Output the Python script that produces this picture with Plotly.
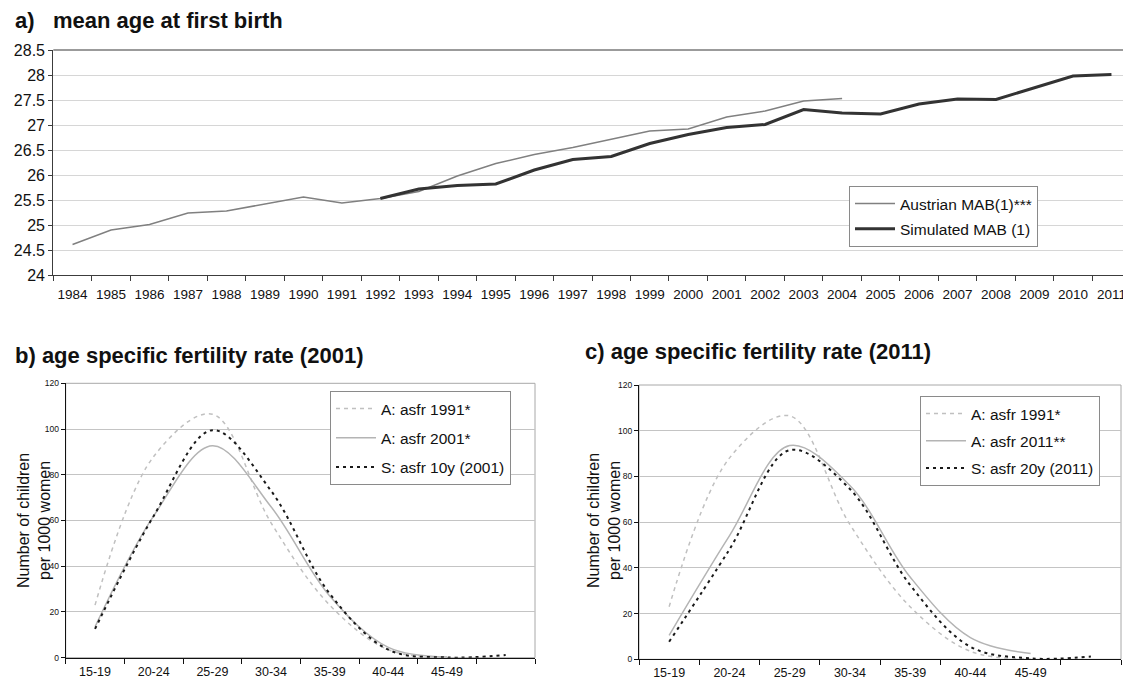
import plotly.graph_objects as go

W, H = 1123, 684
FONT = "Arial, 'Liberation Sans', sans-serif"

# ---- panel a: mean age at first birth ----
years = [str(y) for y in range(1984, 2012)]
austria_years = [str(y) for y in range(1984, 2005)]
austria_mab = [24.61, 24.90, 25.01, 25.24, 25.28, 25.42, 25.56, 25.44, 25.53, 25.67,
               25.98, 26.23, 26.41, 26.55, 26.71, 26.88, 26.92, 27.16, 27.28, 27.48, 27.53]
sim_years = [str(y) for y in range(1992, 2012)]
sim_mab = [25.53, 25.72, 25.79, 25.82, 26.10, 26.31, 26.37, 26.63, 26.81, 26.95,
           27.01, 27.31, 27.24, 27.22, 27.42, 27.52, 27.51, 27.75, 27.98, 28.01]

# ---- panels b and c: age specific fertility rates ----
age_groups = ["15-19", "20-24", "25-29", "30-34", "35-39", "40-44", "45-49", " "]
asfr_1991 = [23, 88, 106.5, 59, 23, 3.5, 0.2]
asfr_2001 = [13.5, 62, 92.7, 66, 27, 4.5, 0.3]
sim_10y = [12.6, 62, 99.5, 73, 28, 3.5, 0.1, 1.2]
asfr_2011 = [10.5, 54, 93.5, 76, 36, 9.5, 2.5]
sim_20y = [7.7, 48, 91.5, 74.5, 32.5, 5.5, 0.4, 1.2]


def xd(left, right):
    return [left / W, min(right / W, 1.0)]


def yd(top, bottom):
    return [1 - bottom / H, 1 - top / H]


fig = go.Figure()

# panel a traces
fig.add_trace(go.Scatter(x=austria_years, y=austria_mab, mode="lines", name="Austrian MAB(1)***",
                         line=dict(color="#808080", width=1.5), xaxis="x", yaxis="y",
                         legend="legend", legendgroup="a1"))
fig.add_trace(go.Scatter(x=sim_years, y=sim_mab, mode="lines", name="Simulated MAB (1)",
                         line=dict(color="#333333", width=3), xaxis="x", yaxis="y",
                         legend="legend", legendgroup="a2"))

light_dash = dict(color="#c0c0c0", width=1.5, dash="4px,4px", shape="spline", smoothing=1)
gray_solid = dict(color="#b4b4b4", width=1.5, shape="spline", smoothing=1)
black_dot = dict(color="#1a1a1a", width=2, dash="3px,4px", shape="spline", smoothing=1)

# panel b traces
fig.add_trace(go.Scatter(x=age_groups[:len(asfr_1991)], y=asfr_1991, mode="lines", name="A: asfr 1991*",
                         line=light_dash, xaxis="x2", yaxis="y2", legend="legend2", legendgroup="b1"))
fig.add_trace(go.Scatter(x=age_groups[:len(asfr_2001)], y=asfr_2001, mode="lines", name="A: asfr 2001*",
                         line=gray_solid, xaxis="x2", yaxis="y2", legend="legend2", legendgroup="b2"))
fig.add_trace(go.Scatter(x=age_groups[:len(sim_10y)], y=sim_10y, mode="lines", name="S: asfr 10y (2001)",
                         line=black_dot, xaxis="x2", yaxis="y2", legend="legend2", legendgroup="b3"))

# panel c traces
fig.add_trace(go.Scatter(x=age_groups[:len(asfr_1991)], y=asfr_1991, mode="lines", name="A: asfr 1991*",
                         line=light_dash, xaxis="x3", yaxis="y3", legend="legend3", legendgroup="c1"))
fig.add_trace(go.Scatter(x=age_groups[:len(asfr_2011)], y=asfr_2011, mode="lines", name="A: asfr 2011**",
                         line=gray_solid, xaxis="x3", yaxis="y3", legend="legend3", legendgroup="c2"))
fig.add_trace(go.Scatter(x=age_groups[:len(sim_20y)], y=sim_20y, mode="lines", name="S: asfr 20y (2011)",
                         line=black_dot, xaxis="x3", yaxis="y3", legend="legend3", legendgroup="c3"))

axis_dark = "#3c3c3c"

top_x = dict(type="category", categoryorder="array", categoryarray=years, tickson="boundaries",
             range=[-0.5, 27.3], domain=xd(53.3, 1123), anchor="y", automargin=False,
             showline=True, linecolor=axis_dark, linewidth=1.2, ticks="outside", ticklen=5,
             tickcolor=axis_dark, showgrid=False, tickangle=0, ticklabelstandoff=7,
             tickfont=dict(size=13.5, color="#111"))
top_y = dict(range=[24, 28.5], dtick=0.5, domain=yd(50, 275), anchor="x", automargin=False,
             showline=True, linecolor=axis_dark, linewidth=1.2, ticks="outside", ticklen=4,
             tickcolor=axis_dark, showgrid=True, gridcolor="#d6d6d6", gridwidth=1.2, zeroline=False,
             tickfont=dict(size=16, color="#111"))


def bottom_axes(xdom, ydom, anchor_x, anchor_y):
    xa = dict(type="category", categoryorder="array", categoryarray=age_groups, tickson="boundaries",
              range=[-0.5, 7.5], domain=xdom, anchor=anchor_y, automargin=False,
              showline=True, linecolor="#111", linewidth=1.2, ticks="outside", ticklen=5,
              tickcolor="#111", showgrid=False, tickangle=0, ticklabelstandoff=2,
              tickfont=dict(size=12.5, color="#111"))
    ya = dict(range=[0, 120], dtick=20, domain=ydom, anchor=anchor_x, automargin=False,
              showline=True, linecolor="#111", linewidth=1.2, ticks="outside", ticklen=4,
              tickcolor="#111", showgrid=True, gridcolor="#c4c4c4", gridwidth=1, zeroline=False,
              tickfont=dict(size=8.5, color="#111"))
    return xa, ya


x2, y2 = bottom_axes(xd(65.7, 535), yd(383.3, 657.7), "x2", "y2")
x3, y3 = bottom_axes(xd(639, 1121), yd(385, 659.3), "x3", "y3")

legend_common = dict(xanchor="left", yanchor="top", bgcolor="white", bordercolor="#8a8a8a",
                     borderwidth=1, font=dict(family=FONT, size=15.5, color="#111"),
                     traceorder="grouped", itemclick=False, itemwidth=40)

annotations = [
    dict(text="<b>a)&nbsp;&nbsp;&nbsp;mean age at first birth</b>", x=13 / W, y=1 - 21 / H,
         xref="paper", yref="paper", xanchor="left", yanchor="middle", showarrow=False,
         font=dict(size=22, color="#111")),
    dict(text="<b>b) age specific fertility rate (2001)</b>", x=13 / W, y=1 - 355 / H, xref="paper",
         yref="paper", xanchor="left", yanchor="middle", showarrow=False, font=dict(size=22, color="#111")),
    dict(text="<b>c) age specific fertility rate (2011)</b>", x=583 / W, y=1 - 351 / H, xref="paper",
         yref="paper", xanchor="left", yanchor="middle", showarrow=False, font=dict(size=22, color="#111")),
    dict(text="Number of children<br>per 1000 women", x=34 / W, y=1 - 521 / H, xref="paper", yref="paper",
         xanchor="center", yanchor="middle", textangle=-90, showarrow=False,
         font=dict(size=16, color="#111")),
    dict(text="Number of children<br>per 1000 women", x=604 / W, y=1 - 521 / H, xref="paper", yref="paper",
         xanchor="center", yanchor="middle", textangle=-90, showarrow=False,
         font=dict(size=16, color="#111")),
]

shapes = [
    # top border of panel a
    dict(type="line", xref="x domain", yref="y domain", x0=0, x1=1, y0=1, y1=1,
         line=dict(color="#7a7a7a", width=1.5), layer="above"),
    # frames of panels b and c
    dict(type="rect", xref="x2 domain", yref="y2 domain", x0=0, x1=1, y0=0, y1=1,
         line=dict(color="#a8a8a8", width=1), layer="below"),
    dict(type="rect", xref="x3 domain", yref="y3 domain", x0=0, x1=1, y0=0, y1=1,
         line=dict(color="#a8a8a8", width=1), layer="below"),
]

fig.update_layout(
    width=W, height=H, margin=dict(l=0, r=0, t=0, b=0, autoexpand=False),
    paper_bgcolor="white", plot_bgcolor="white",
    font=dict(family=FONT, color="#111"),
    xaxis=top_x, yaxis=top_y, xaxis2=x2, yaxis2=y2, xaxis3=x3, yaxis3=y3,
    legend=dict(x=849 / W, y=1 - 186 / H, tracegroupgap=2, **legend_common),
    legend2=dict(x=330 / W, y=1 - 391 / H, tracegroupgap=6, **legend_common),
    legend3=dict(x=920 / W, y=1 - 396 / H, tracegroupgap=4, **legend_common),
    annotations=annotations, shapes=shapes, hovermode=False,
)

fig.write_html("out.html")
